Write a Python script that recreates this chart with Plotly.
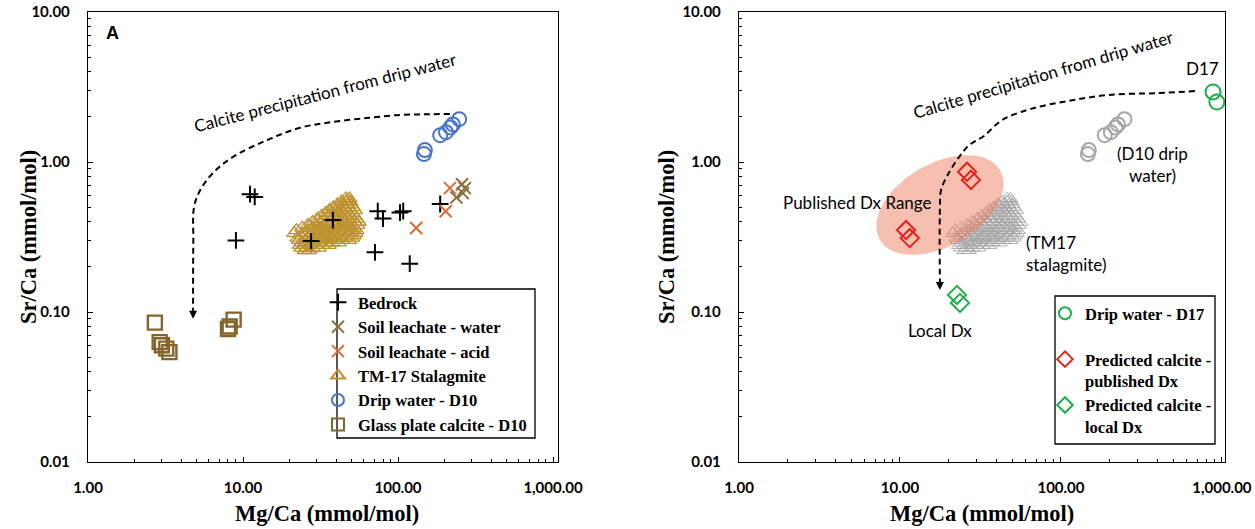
import numpy as np
import plotly.graph_objects as go

W, H = 1255, 529

# ---------------- data: Mg/Ca and Sr/Ca (mmol/mol) ----------------
bedrock_mg = [11.1, 11.9, 9.0, 27.5, 38.0, 74.0, 80.0, 103.0, 108.0, 71.0, 119.0, 187.0]
bedrock_sr = [0.61, 0.585, 0.30, 0.297, 0.41, 0.47, 0.42, 0.46, 0.47, 0.25, 0.21, 0.525]

soil_water_mg = [259.0, 270.0, 238.0, 262.0]
soil_water_sr = [0.71, 0.67, 0.58, 0.62]

soil_acid_mg = [131.0, 216.0, 203.0]
soil_acid_sr = [0.363, 0.67, 0.47]

drip_d10_mg = [147.0, 149.0, 187.0, 204.0, 218.0, 226.0, 248.0]
drip_d10_sr = [1.13, 1.20, 1.51, 1.58, 1.70, 1.78, 1.93]

glass_mg = [2.7, 2.9, 3.0, 3.2, 3.35, 8.0, 8.2, 8.7]
glass_sr = [0.085, 0.063, 0.060, 0.057, 0.054, 0.077, 0.080, 0.089]

# TM-17 stalagmite record
tm17_mg = [
    25.0, 26.8,
    23.8, 25.9, 28.2, 30.8,
    23.2, 25.2, 27.4, 29.8, 32.7, 35.8,
    23.9, 26.1, 28.3, 30.9, 33.9, 37.6, 41.5,
    22.9, 25.4, 27.2, 29.6, 32.1, 35.2, 38.8, 43.6, 48.5,
    22.4, 26.0, 28.6, 31.2, 33.6, 37.1, 40.9, 45.7, 50.6,
    23.7, 27.1, 30.0, 32.6, 35.3, 38.6, 42.8, 47.4, 51.9,
    21.4, 24.9, 28.1, 31.1, 34.2, 37.2, 40.2, 44.1, 48.8, 53.1,
    22.1, 26.4, 29.6, 32.4, 35.6, 39.1, 42.4, 46.1, 50.2, 54.0,
    24.1, 27.9, 31.2, 34.1, 37.6, 41.0, 44.6, 48.2, 52.1,
    26.2, 29.4, 33.1, 36.2, 39.4, 43.1, 46.8, 50.9, 54.6,
    28.1, 31.6, 35.0, 38.2, 41.6, 45.1, 48.9, 52.8, 55.8,
    30.2, 33.4, 37.1, 40.1, 43.4, 47.2, 50.8, 54.2,
    32.1, 35.6, 38.9, 42.2, 45.6, 48.8, 52.4,
    34.2, 37.4, 41.1, 44.2, 47.4, 50.9,
    36.1, 39.6, 42.9, 46.2, 49.4, 52.8,
    38.2, 41.4, 45.1, 48.1, 51.2,
    40.6, 44.1, 47.2, 50.1,
    43.2, 46.4, 49.2,
    46.1, 48.6,
]
tm17_sr = [
    0.258, 0.258,
    0.268, 0.268, 0.268, 0.268,
    0.279, 0.279, 0.279, 0.279, 0.279, 0.279,
    0.290, 0.290, 0.290, 0.290, 0.290, 0.290, 0.290,
    0.301, 0.301, 0.301, 0.301, 0.301, 0.301, 0.301, 0.301, 0.301,
    0.312, 0.312, 0.312, 0.312, 0.312, 0.312, 0.312, 0.312, 0.312,
    0.323, 0.323, 0.323, 0.323, 0.323, 0.323, 0.323, 0.323, 0.323,
    0.336, 0.336, 0.336, 0.336, 0.336, 0.336, 0.336, 0.336, 0.336, 0.336,
    0.350, 0.350, 0.350, 0.350, 0.350, 0.350, 0.350, 0.350, 0.350, 0.350,
    0.364, 0.364, 0.364, 0.364, 0.364, 0.364, 0.364, 0.364, 0.364,
    0.380, 0.380, 0.380, 0.380, 0.380, 0.380, 0.380, 0.380, 0.380,
    0.398, 0.398, 0.398, 0.398, 0.398, 0.398, 0.398, 0.398, 0.398,
    0.418, 0.418, 0.418, 0.418, 0.418, 0.418, 0.418, 0.418,
    0.438, 0.438, 0.438, 0.438, 0.438, 0.438, 0.438,
    0.458, 0.458, 0.458, 0.458, 0.458, 0.458,
    0.478, 0.478, 0.478, 0.478, 0.478, 0.478,
    0.498, 0.498, 0.498, 0.498, 0.498,
    0.520, 0.520, 0.520, 0.520,
    0.545, 0.545, 0.545,
    0.570, 0.570,
]

drip_d17_mg = [880.0, 930.0]
drip_d17_sr = [2.93, 2.51]

pred_published_mg = [26.1, 27.6, 10.9, 11.5]
pred_published_sr = [0.86, 0.76, 0.352, 0.311]

pred_local_mg = [22.6, 23.6]
pred_local_sr = [0.130, 0.115]

# calcite precipitation paths (guide curves)
path_a_mg = [216, 150, 103, 65, 38, 23.3, 14.3, 8.6, 6.4, 5.3, 4.83, 4.78, 4.76]
path_a_sr = [2.09, 2.08, 2.06, 1.97, 1.85, 1.69, 1.40, 1.08, 0.845, 0.65, 0.50, 0.30, 0.102]

path_b_mg = [679, 400, 199, 110, 65, 43, 33.2, 27, 23.6, 20.1, 18.0, 17.7, 17.7]
path_b_sr = [2.97, 2.88, 2.80, 2.55, 2.26, 1.90, 1.49, 1.30, 1.10, 0.845, 0.65, 0.48, 0.155]

# published Dx range (ellipse in log space)
dx_center_mg, dx_center_sr = 17.7, 0.517
dx_semi_major, dx_semi_minor, dx_angle_deg = 0.44, 0.27, 34.0

x_tickvals = [1, 10, 100, 1000]
x_ticktext = ["1.00", "10.00", "100.00", "1,000.00"]
y_tickvals = [0.01, 0.1, 1, 10]
y_ticktext = ["0.01", "0.10", "1.00", "10.00"]

x_minor = [m * 10 ** e for e in range(0, 3) for m in range(2, 10)]
y_minor = [m * 10.0 ** e for e in range(-2, 1) for m in range(2, 10)]

SERIF = "Liberation Serif"
SANS = "Lato"
DASH = "6px,4px"


def px(x):
    return x / W


def py(y):
    return 1 - y / H


fig = go.Figure()

# ---------------- panel A ----------------
fig.add_trace(go.Scatter(
    x=tm17_mg, y=tm17_sr, mode="markers", name="<b>TM-17 Stalagmite</b>",
    marker=dict(symbol="triangle-up-open", size=13, color="#BE912F",
                line=dict(width=1.3, color="#BE912F")),
    xaxis="x", yaxis="y", legend="legend", legendrank=4, legendgroup="a4"))
fig.add_trace(go.Scatter(
    x=bedrock_mg, y=bedrock_sr, mode="markers", name="<b>Bedrock</b>",
    marker=dict(symbol="cross-thin", size=12, color="black",
                line=dict(width=2, color="black")),
    xaxis="x", yaxis="y", legend="legend", legendrank=1, legendgroup="a1"))
fig.add_trace(go.Scatter(
    x=soil_water_mg, y=soil_water_sr, mode="markers", name="<b>Soil leachate - water</b>",
    marker=dict(symbol="x-thin", size=12, color="#8A723E",
                line=dict(width=2, color="#8A723E")),
    xaxis="x", yaxis="y", legend="legend", legendrank=2, legendgroup="a2"))
fig.add_trace(go.Scatter(
    x=soil_acid_mg, y=soil_acid_sr, mode="markers", name="<b>Soil leachate - acid</b>",
    marker=dict(symbol="x-thin", size=12, color="#DF6837",
                line=dict(width=2, color="#DF6837")),
    xaxis="x", yaxis="y", legend="legend", legendrank=3, legendgroup="a3"))
fig.add_trace(go.Scatter(
    x=drip_d10_mg, y=drip_d10_sr, mode="markers", name="<b>Drip water - D10</b>",
    marker=dict(symbol="circle-open", size=14, color="#4A74C6",
                line=dict(width=2, color="#4A74C6")),
    xaxis="x", yaxis="y", legend="legend", legendrank=5, legendgroup="a5"))
fig.add_trace(go.Scatter(
    x=glass_mg, y=glass_sr, mode="markers", name="<b>Glass plate calcite - D10</b>",
    marker=dict(symbol="square-open", size=14, color="#84642A",
                line=dict(width=2.4, color="#84642A")),
    xaxis="x", yaxis="y", legend="legend", legendrank=6, legendgroup="a6"))
fig.add_trace(go.Scatter(
    x=path_a_mg, y=path_a_sr, mode="lines", showlegend=False, hoverinfo="skip",
    line=dict(color="black", width=2, dash=DASH, shape="spline"),
    xaxis="x", yaxis="y"))

# ---------------- panel B ----------------
fig.add_trace(go.Scatter(
    x=tm17_mg, y=tm17_sr, mode="markers", showlegend=False,
    marker=dict(symbol="triangle-up-open", size=13, color="#A6A6A6",
                line=dict(width=0.9, color="#A6A6A6")),
    xaxis="x2", yaxis="y2"))

t = np.linspace(0, 2 * np.pi, 121)
ang = np.deg2rad(dx_angle_deg)
ex = np.log10(dx_center_mg) + dx_semi_major * np.cos(t) * np.cos(ang) - dx_semi_minor * np.sin(t) * np.sin(ang)
ey = np.log10(dx_center_sr) + dx_semi_major * np.cos(t) * np.sin(ang) + dx_semi_minor * np.sin(t) * np.cos(ang)
fig.add_trace(go.Scatter(
    x=10 ** ex, y=10 ** ey, mode="lines", fill="toself", showlegend=False, hoverinfo="skip",
    fillcolor="rgba(236,112,78,0.45)", line=dict(width=0),
    xaxis="x2", yaxis="y2"))

fig.add_trace(go.Scatter(
    x=drip_d10_mg, y=drip_d10_sr, mode="markers", showlegend=False,
    marker=dict(symbol="circle-open", size=14, color="#A6A6A6",
                line=dict(width=2, color="#A6A6A6")),
    xaxis="x2", yaxis="y2"))
fig.add_trace(go.Scatter(
    x=path_b_mg, y=path_b_sr, mode="lines", showlegend=False, hoverinfo="skip",
    line=dict(color="black", width=2, dash=DASH, shape="spline"),
    xaxis="x2", yaxis="y2"))
fig.add_trace(go.Scatter(
    x=drip_d17_mg, y=drip_d17_sr, mode="markers", name="<b>Drip water - D17</b><br> ",
    marker=dict(symbol="circle-open", size=15, color="#1DAF4B",
                line=dict(width=2, color="#1DAF4B")),
    xaxis="x2", yaxis="y2", legend="legend2", legendgroup="b1"))
fig.add_trace(go.Scatter(
    x=pred_published_mg, y=pred_published_sr, mode="markers",
    name="<b>Predicted calcite -<br>published Dx</b>",
    marker=dict(symbol="diamond-open", size=14, color="#E8201C",
                line=dict(width=2, color="#E8201C")),
    xaxis="x2", yaxis="y2", legend="legend2", legendgroup="b2"))
fig.add_trace(go.Scatter(
    x=pred_local_mg, y=pred_local_sr, mode="markers",
    name="<b>Predicted calcite -<br>local Dx</b>",
    marker=dict(symbol="diamond-open", size=14, color="#1DAF4B",
                line=dict(width=2, color="#1DAF4B")),
    xaxis="x2", yaxis="y2", legend="legend2", legendgroup="b3"))


def log_axis(domain, rng, tickvals, ticktext, minor_vals, anchor, standoff):
    return dict(
        type="log", domain=domain, range=rng, anchor=anchor, automargin=False,
        showline=True, linecolor="black", linewidth=1.4, mirror=True,
        showgrid=False, zeroline=False,
        ticks="inside", ticklen=5, tickwidth=1.3, tickcolor="black",
        tickmode="array", tickvals=tickvals, ticktext=ticktext,
        tickfont=dict(family=SANS, size=15, color="black", weight="bold"),
        ticklabelstandoff=standoff,
        minor=dict(ticks="inside", ticklen=3, tickwidth=1, tickcolor="black",
                   tickmode="array", tickvals=minor_vals, showgrid=False),
    )


ydom = [py(462), py(12)]
fig.update_layout(
    template="none",
    width=W, height=H, margin=dict(l=0, r=0, t=0, b=0, autoexpand=False),
    paper_bgcolor="white", plot_bgcolor="white",
    xaxis=log_axis([px(88), px(558)], [0, 3.032], x_tickvals, x_ticktext, x_minor, "y", 12),
    yaxis=log_axis(ydom, [-2, 1], y_tickvals, y_ticktext, y_minor, "x", 14),
    xaxis2=log_axis([px(739), px(1225)], [0, 3.019], x_tickvals, x_ticktext, x_minor, "y2", 12),
    yaxis2=log_axis(ydom, [-2, 1], y_tickvals, y_ticktext, y_minor, "x2", 14),
    legend=dict(x=px(318), y=py(285), xanchor="left", yanchor="top",
                bgcolor="rgba(0,0,0,0)", borderwidth=0, itemwidth=30, itemsizing="constant",
                font=dict(family=SERIF, size=16.5, color="black"),
                tracegroupgap=0.6, traceorder="normal"),
    legend2=dict(x=px(1045), y=py(296), xanchor="left", yanchor="top",
                 bgcolor="rgba(0,0,0,0)", borderwidth=0, itemwidth=30, valign="top",
                 itemsizing="constant",
                 font=dict(family=SERIF, size=16.5, color="black"),
                 tracegroupgap=17, traceorder="normal"),
    showlegend=True,
)

# legend frames
fig.add_shape(type="rect", xref="paper", yref="paper",
              x0=px(337), x1=px(535), y0=py(438), y1=py(289),
              line=dict(color="black", width=1.3), fillcolor="rgba(0,0,0,0)")
fig.add_shape(type="rect", xref="paper", yref="paper",
              x0=px(1055), x1=px(1215), y0=py(444), y1=py(296),
              line=dict(color="black", width=1.3), fillcolor="rgba(0,0,0,0)")

# arrow heads at the end of each precipitation path
fig.add_annotation(x=np.log10(path_a_mg[-1]), y=np.log10(0.09), xref="x", yref="y",
                   ax=0, ay=-10, text="",
                   showarrow=True, arrowhead=2, arrowsize=1, arrowwidth=1.6, arrowcolor="black")
fig.add_annotation(x=np.log10(path_b_mg[-1]), y=np.log10(0.14), xref="x2", yref="y2",
                   ax=0, ay=-10, text="",
                   showarrow=True, arrowhead=2, arrowsize=1, arrowwidth=1.6, arrowcolor="black")

label_font = dict(family=SANS, size=17, color="black")


def note(text, x, y, angle=0, xanchor="center", yanchor="middle", align="center", font=None):
    fig.add_annotation(x=px(x), y=py(y), xref="paper", yref="paper", text=text,
                       showarrow=False, textangle=angle, xanchor=xanchor, yanchor=yanchor,
                       align=align, font=font or label_font)


note("Calcite precipitation from drip water", 325, 92, angle=-14.5)
note("Calcite precipitation from drip water", 1043, 74, angle=-16.5)
note("<b>A</b>", 112, 33, font=dict(family="Liberation Sans", size=18, color="black"))
note("Published Dx Range", 934, 202, xanchor="right")
note("(D10 drip<br>water)", 1152, 164)
note("(TM17<br>stalagmite)", 1024, 254, xanchor="left", align="left")
note("Local Dx", 940, 330)
note("D17", 1202, 68)

title_font = dict(family=SERIF, size=22.5, color="black")
note("<b>Mg/Ca (mmol/mol)</b>", 327, 513, font=title_font)
note("<b>Mg/Ca (mmol/mol)</b>", 982, 513, font=title_font)
note("<b>Sr/Ca (mmol/mol)</b>", 28, 237, angle=-90, font=title_font)
note("<b>Sr/Ca (mmol/mol)</b>", 666, 237, angle=-90, font=title_font)

fig.write_html("out.html")
